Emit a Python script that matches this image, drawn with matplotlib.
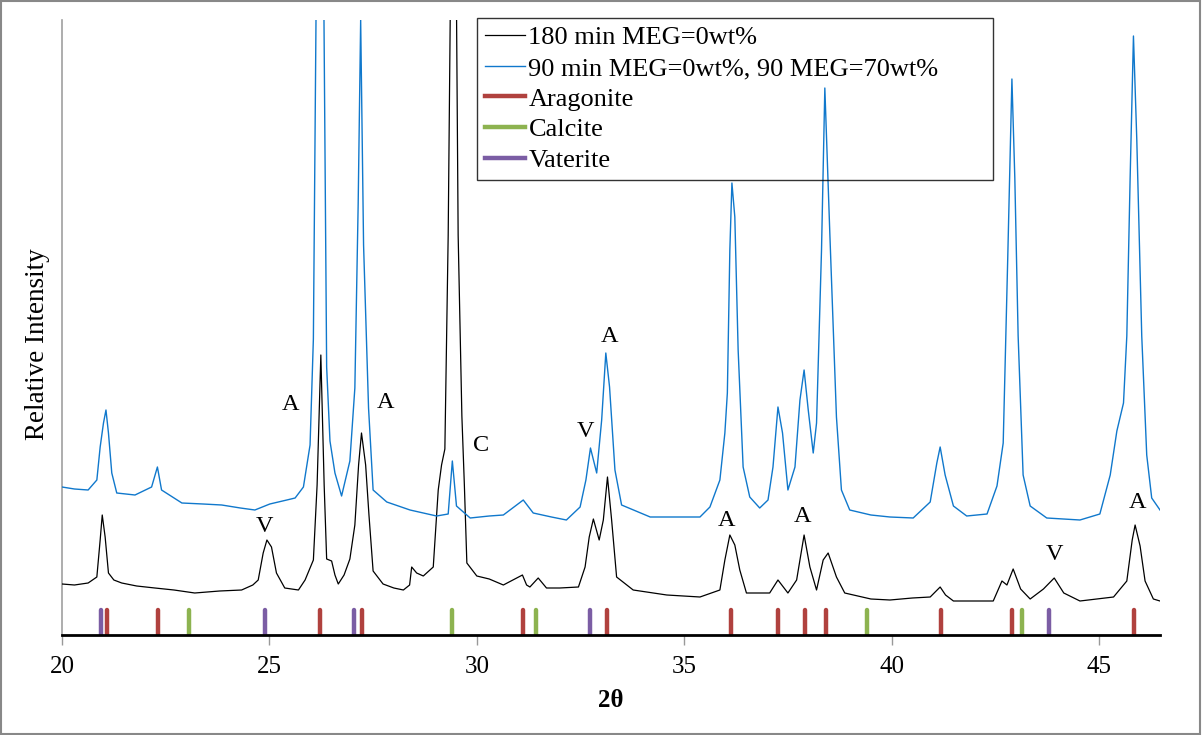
import matplotlib
matplotlib.use("Agg")
import matplotlib.pyplot as plt
from matplotlib.lines import Line2D
from matplotlib.patches import Rectangle

plt.rcParams['font.family'] = ['Liberation Serif', 'DejaVu Serif']

# ---- data ----
black_x = [20.00, 20.30, 20.63, 20.84, 20.92, 20.97, 21.04, 21.12, 21.25, 21.44, 21.80, 22.24,
           22.70, 23.20, 23.80, 24.33, 24.60, 24.73, 24.85, 24.94, 25.05, 25.17, 25.37, 25.70,
           25.86, 26.06, 26.15, 26.24, 26.32, 26.38, 26.50, 26.58, 26.66, 26.80, 26.94, 27.06,
           27.15, 27.22, 27.32, 27.40, 27.50, 27.74, 28.00, 28.23, 28.38, 28.43, 28.55, 28.71,
           28.95, 29.07, 29.15, 29.23, 29.31, 29.40, 29.48, 29.55, 29.64, 29.70, 29.76, 30.00,
           30.30, 30.64, 31.10, 31.20, 31.28, 31.48, 31.68, 32.00, 32.45, 32.61, 32.71, 32.81,
           32.95, 33.05, 33.15, 33.25, 33.37, 33.77, 34.58, 35.38, 35.86, 35.98, 36.10, 36.22,
           36.34, 36.50, 37.06, 37.26, 37.50, 37.71, 37.89, 38.03, 38.19, 38.35, 38.47, 38.67,
           38.87, 39.50, 39.96, 40.50, 40.93, 41.17, 41.30, 41.49, 42.45, 42.66, 42.78, 42.93,
           43.11, 43.34, 43.66, 43.92, 44.15, 44.54, 45.35, 45.67, 45.80, 45.87, 45.99, 46.11,
           46.31, 46.47]
black_y = [51, 50, 52, 58, 95, 120, 98, 62, 55, 52, 49, 47,
           45, 42, 44, 45, 50, 55, 82, 95, 88, 62, 47, 45,
           55, 75, 150, 280, 150, 76, 74, 60, 51, 60, 76, 110,
           170, 202, 170, 120, 64, 51, 47, 45, 50, 68, 62, 59,
           68, 145, 170, 186, 400, 800, 800, 400, 219, 150, 72, 59,
           56, 50, 60, 50, 48, 57, 47, 47, 48, 68, 98, 116,
           95, 115, 158, 115, 58, 45, 40, 38, 45, 75, 100, 90,
           65, 42, 42, 55, 42, 55, 100, 68, 45, 75, 82, 58,
           42, 36, 35, 37, 38, 48, 40, 34, 34, 54, 50, 66,
           46, 36, 46, 57, 42, 34, 38, 54, 95, 110, 89, 54,
           36, 34]

blue_x = [20.00, 20.30, 20.63, 20.84, 20.92, 21.00, 21.06, 21.12, 21.20, 21.32, 21.76, 22.16,
          22.30, 22.40, 22.89, 23.40, 23.85, 24.30, 24.65, 25.01, 25.42, 25.62, 25.82, 25.98,
          26.06, 26.14, 26.22, 26.30, 26.38, 26.46, 26.58, 26.74, 26.94, 27.06, 27.14, 27.20,
          27.27, 27.39, 27.50, 27.83, 28.39, 29.03, 29.31, 29.41, 29.51, 29.84, 30.30, 30.64,
          31.12, 31.36, 31.80, 32.16, 32.49, 32.63, 32.74, 32.89, 33.01, 33.11, 33.20, 33.33,
          33.49, 34.18, 34.80, 35.38, 35.62, 35.86, 35.98, 36.04, 36.10, 36.15, 36.22, 36.30,
          36.42, 36.58, 36.82, 37.02, 37.14, 37.26, 37.37, 37.50, 37.67, 37.79, 37.89, 37.99,
          38.11, 38.19, 38.31, 38.39, 38.51, 38.67, 38.79, 38.99, 39.50, 39.96, 40.52, 40.93,
          41.09, 41.17, 41.29, 41.49, 41.81, 42.30, 42.54, 42.69, 42.80, 42.90, 42.97, 43.05,
          43.17, 43.34, 43.74, 44.54, 45.02, 45.27, 45.43, 45.59, 45.67, 45.75, 45.83, 45.91,
          46.03, 46.15, 46.27, 46.47]
blue_y = [148, 146, 145, 155, 188, 212, 225, 202, 162, 142, 140, 148,
          168, 145, 132, 131, 130, 127, 125, 131, 135, 137, 148, 190,
          296, 700, 800, 700, 268, 194, 162, 139, 174, 247, 431, 615,
          390, 227, 145, 133, 125, 119, 121, 174, 129, 117, 119, 120,
          135, 122, 118, 115, 128, 155, 187, 162, 215, 282, 248, 165,
          130, 118, 118, 118, 128, 155, 202, 242, 385, 452, 418, 285,
          168, 138, 127, 135, 168, 228, 202, 145, 168, 235, 265, 225,
          182, 212, 385, 547, 402, 218, 145, 125, 120, 118, 117, 133,
          172, 188, 160, 129, 119, 121, 149, 192, 378, 556, 457, 299,
          160, 129, 117, 115, 121, 160, 204, 232, 299, 457, 599, 496,
          299, 180, 137, 125]

aragonite = [21.08, 22.31, 26.22, 27.23, 31.11, 33.15, 36.12, 37.27, 37.90, 38.41, 41.19, 42.90, 45.85]
calcite = [23.06, 29.40, 31.43, 39.40, 43.15]
vaterite = [20.94, 24.89, 27.05, 32.74, 43.80]
stick_height = 25

labels_text = ['A', 'A', 'C', 'V', 'A', 'V', 'A', 'A', 'V', 'A']
labels_x = [25.50, 27.79, 30.10, 32.61, 33.19, 24.89, 36.01, 37.84, 43.92, 45.92]
labels_y = [230, 232, 189, 203, 298, 109, 115, 118, 81, 132]

series_names = ['180 min MEG=0wt%', '90 min MEG=0wt%, 90 MEG=70wt%', 'Aragonite', 'Calcite', 'Vaterite']
xticks = [20, 25, 30, 35, 40, 45]

# ---- figure ----
W, H = 1202, 735
fig = plt.figure(figsize=(W / 100, H / 100), dpi=100)
ax = fig.add_axes([62 / W, 1 - 635 / H, (1160 - 62) / W, (635 - 20) / H])

black_c = '#000000'
blue_c = '#1078CC'
red_c = '#B0413E'
green_c = '#8DB350'
purple_c = '#7B5DA4'

ax.plot(black_x, black_y, color=black_c, lw=0.9, zorder=3)
ax.plot(blue_x, blue_y, color=blue_c, lw=1.0, zorder=3)

for pos, col in ((aragonite, red_c), (calcite, green_c), (vaterite, purple_c)):
    lc = ax.vlines(pos, 0, stick_height, colors=col, lw=3.2, zorder=2)
    lc.set_capstyle('round')

for t, x, y in zip(labels_text, labels_x, labels_y):
    ax.text(x, y, t, ha='center', va='center', fontsize=17.5)

ax.set_xlim(20, 46.47)
ax.set_ylim(0, 615)
ax.set_yticks([])
ax.set_xticks(xticks)
ax.tick_params(axis='x', direction='out', length=7, width=1, color='#999999',
               labelsize=18, pad=8)
for s in ('top', 'right'):
    ax.spines[s].set_visible(False)
ax.spines['left'].set_color('#a0a0a0')
ax.spines['left'].set_linewidth(1.2)
ax.spines['bottom'].set_color('black')
ax.spines['bottom'].set_linewidth(2)
ax.spines['bottom'].set_zorder(4)

ax.set_xlabel('2θ', fontsize=18, fontweight='bold', labelpad=8)
ax.set_ylabel('Relative Intensity', fontsize=19.5)
ax.yaxis.set_label_coords((50 - 62) / 1098, (635 - 344) / 615)

handles = [Line2D([], [], color=black_c, lw=0.9),
           Line2D([], [], color=blue_c, lw=1.0),
           Line2D([], [], color=red_c, lw=3.2),
           Line2D([], [], color=green_c, lw=3.2),
           Line2D([], [], color=purple_c, lw=3.2)]
leg = fig.legend(handles, series_names, loc='upper left',
                 bbox_to_anchor=(477 / W, 1 - 18 / H - 0.01, (993 - 477) / W, 0.01),
                 mode='expand', fontsize=19, frameon=True, fancybox=False,
                 handlelength=1.5, handletextpad=0.15, labelspacing=0.27,
                 borderpad=0.3, borderaxespad=0)
leg.get_frame().set_edgecolor('black')
leg.get_frame().set_linewidth(1.0)
leg.get_frame().set_facecolor('none')

fig.patches.append(Rectangle((0.001, 0.001), 0.997, 0.997, transform=fig.transFigure,
                             fill=False, edgecolor='#888888', lw=1.5))

fig.savefig('out.png', dpi=100)
